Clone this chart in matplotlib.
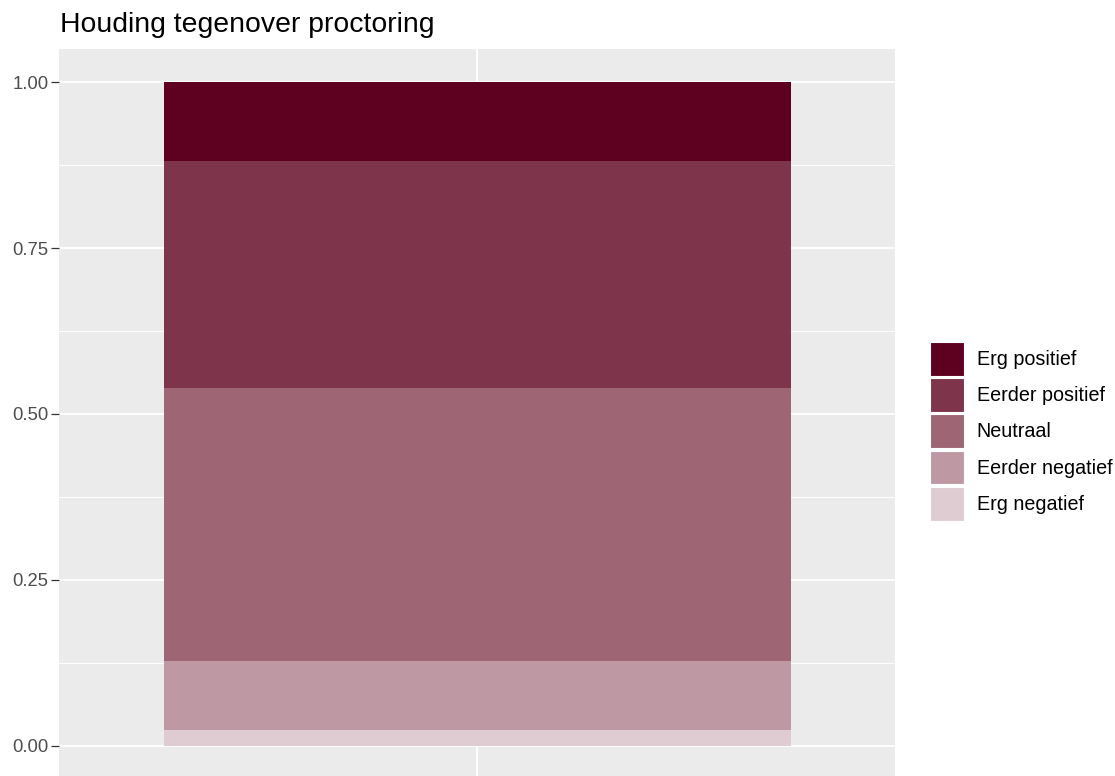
import matplotlib.pyplot as plt
import numpy as np
from matplotlib.patches import Patch

plt.rcParams['font.family'] = ['Liberation Sans', 'DejaVu Sans']

# answer categories, bottom to top of the stack
categories = ['Erg negatief', 'Eerder negatief', 'Neutraal', 'Eerder positief', 'Erg positief']
shares = [0.024, 0.104, 0.411, 0.342, 0.119]
colors = ['#DECCD2', '#BE98A2', '#9E6675', '#7E344A', '#5E0020']
yticks = [0.0, 0.25, 0.5, 0.75, 1.0]
ytick_labels = ['0.00', '0.25', '0.50', '0.75', '1.00']

fig = plt.figure(figsize=(11.15, 7.76), dpi=100)
W, H = 1115, 776
# panel in pixels: left 59, right 895, top 49, bottom 779
ax = fig.add_axes([59 / W, 1 - 779 / H, (895 - 59) / W, (779 - 49) / H])
ax.set_facecolor('#EBEBEB')

bottom = 0
for cat, val, col in zip(categories, shares, colors):
    ax.bar(1, val, width=0.9, bottom=bottom, color=col, label=cat, zorder=3)
    bottom += val

ax.set_xlim(0.4, 1.6)
ax.set_ylim(-0.05, 1.05)
ax.set_yticks(yticks)
ax.set_yticklabels(ytick_labels)
ax.set_yticks([0.125, 0.375, 0.625, 0.875], minor=True)
ax.set_xticks([1])
ax.set_xticklabels([''])
ax.grid(True, which='major', color='white', linewidth=1.3, zorder=0)
ax.grid(True, which='minor', axis='y', color='white', linewidth=0.65, zorder=0)
ax.tick_params(axis='y', which='major', length=6, width=0.9, color='#333333',
               labelcolor='#4D4D4D', labelsize=13.3, pad=1.5)
ax.tick_params(axis='y', which='minor', length=0)
ax.tick_params(axis='x', length=0)
for s in ax.spines.values():
    s.set_visible(False)

fig.text(60 / W, 1 - 32 / H, 'Houding tegenover proctoring', fontsize=20.4, va='baseline', ha='left')

handles = [Patch(facecolor=c, edgecolor='white', linewidth=0.8, label=l)
           for l, c in zip(categories[::-1], colors[::-1])]
leg = fig.legend(handles=handles, loc='upper left', bbox_to_anchor=(922 / W, 1 - 334 / H),
                 frameon=False, fontsize=14.2, handlelength=1.72, handleheight=2.25,
                 labelspacing=0.13, handletextpad=0.66, borderaxespad=0)

fig.savefig('out.png', dpi=100)
